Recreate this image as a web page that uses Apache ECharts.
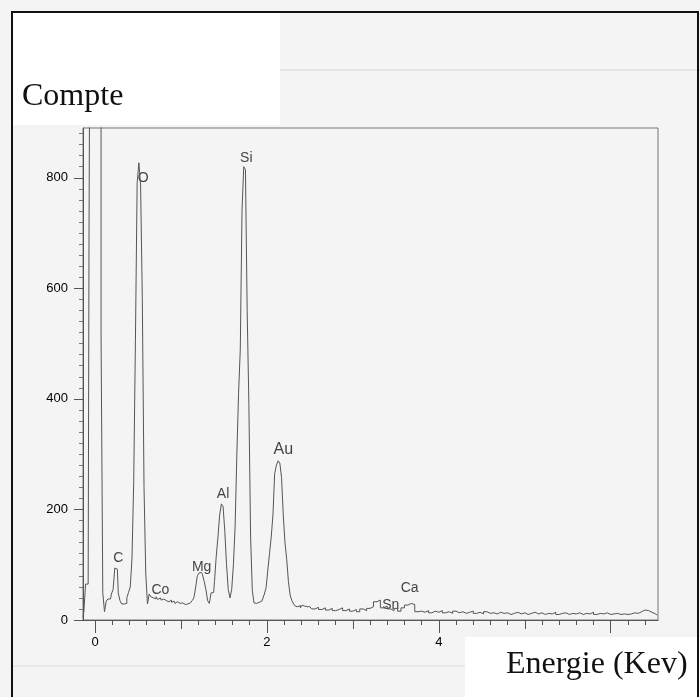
<!DOCTYPE html>
<html>
<head>
<meta charset="utf-8">
<title>Spectre EDS</title>
<script src="https://cdn.jsdelivr.net/npm/echarts@6/dist/echarts.min.js"></script>
</head>
<body style="margin:0;background:#f4f4f4;">
<div id="main" style="width:700px;height:697px;"></div>
<script type="text/javascript">
// canaux fins (0.02 keV) autour des pics
var peakEnergy = [
    -0.14,-0.12,-0.10,-0.08,-0.06,-0.04,-0.02,0.00,0.02,0.04,
    0.06,0.08,0.10,0.12,0.14,0.16,0.18,0.20,0.22,0.24,
    0.26,0.28,0.30,0.32,0.34,0.36,0.38,0.40,0.42,0.44,
    0.46,0.48,0.50,0.52,0.54,0.56,0.58,0.60,0.62,0.64,
    0.66,0.68,0.70,0.72,0.74,0.76,0.78,0.80,0.82,0.84,
    0.86,0.88,0.90,0.92,0.94,0.96,0.98,1.00,1.02,1.04,
    1.06,1.08,1.10,1.12,1.14,1.16,1.18,1.20,1.22,1.24,
    1.26,1.28,1.30,1.32,1.34,1.36,1.38,1.40,1.42,1.44,
    1.46,1.48,1.50,1.52,1.54,1.56,1.58,1.60,1.62,1.64,
    1.66,1.68,1.70,1.72,1.74,1.76,1.78,1.80,1.82,1.84,
    1.86,1.88,1.90,1.92,1.94,1.96,1.98,2.00,2.02,2.04,
    2.06,2.08,2.10,2.12,2.14,2.16,2.18,2.20,2.22,2.24,
    2.26,2.28,2.30,2.32,2.34,2.36,2.38,2.40,2.42,2.44,
    2.46,2.48
];
var peakCounts = [
    5,15,65,65,700,1500,1500,1500,1500,1500,
    1500,519,50,15,34,38,38,47,55,94,
    92,49,35,29,29,30,40,50,60,112,
    250,506,791,827,787,582,240,85,29,47,
    42,40,38,42,37,40,36,38,35,37,
    33,36,32,34,30,33,30,29,31,28,
    30,29,31,30,35,40,58,80,85,86,
    82,70,55,35,30,49,50,70,115,150,
    190,210,205,160,100,55,40,55,100,170,
    300,410,490,740,820,815,560,390,150,53,
    31,30,32,30,34,38,47,58,90,120,
    150,190,265,280,288,284,258,190,140,110,
    70,45,35,29,25,24,26,22,27,25,
    24,22
];
// queue du spectre (0.04 keV)
var tailEnergy = [
    2.50,2.54,2.58,2.62,2.66,2.70,2.74,2.78,2.82,2.86,
    2.90,2.94,2.98,3.02,3.06,3.10,3.14,3.18,3.22,3.26,
    3.30,3.34,3.38,3.42,3.46,3.50,3.54,3.58,3.62,3.66,
    3.70,3.74,3.78,3.82,3.86,3.90,3.94,3.98,4.02,4.06,
    4.10,4.14,4.18,4.22,4.26,4.30,4.34,4.38,4.42,4.46,
    4.50,4.54,4.58,4.62,4.66,4.70,4.74,4.78,4.82,4.86,
    4.90,4.94,4.98,5.02,5.06,5.10,5.14,5.18,5.22,5.26,
    5.30,5.34,5.38,5.42,5.46,5.50,5.54,5.58,5.62,5.66,
    5.70,5.74,5.78,5.82,5.86,5.90,5.94,5.98,6.02,6.06,
    6.10,6.14,6.18,6.22,6.26,6.30,6.34,6.38,6.42,6.46,
    6.50,6.54
];
var tailCounts = [
    24,20,23,19,22,18,21,17,19,22,
    17,20,16,19,15,20,17,21,24,33,
    36,22,25,20,17,21,16,22,27,30,
    28,15,16,14,17,13,16,14,17,13,
    15,12,16,13,15,12,14,16,12,14,
    11,15,12,13,11,14,12,13,10,12,
    14,11,13,10,12,14,11,13,10,12,
    11,14,10,12,13,10,12,11,13,10,
    12,11,14,10,12,11,13,10,11,12,
    10,11,10,11,13,12,15,18,17,14,
    11,9
];

var elementNames = ['C', 'O', 'Co', 'Mg', 'Al', 'Si', 'Au', 'Sn', 'Ca'];
var elementEnergy = [0.27, 0.56, 0.76, 1.24, 1.49, 1.76, 2.19, 3.44, 3.66];
var elementLabelY = [111, 800, 54, 96, 227, 836, 308, 26, 58];

var yTicks = [0, 200, 400, 600, 800];
var yMinorTicks = [20, 40, 60, 80, 100, 120, 140, 160, 180, 220, 240, 260, 280, 300, 320, 340, 360, 380,
    420, 440, 460, 480, 500, 520, 540, 560, 580, 620, 640, 660, 680, 700, 720, 740, 760, 780,
    820, 840, 860, 880];
var xLabels = [0, 2, 4];
var xMajorTicks = [0, 2, 4, 6];
var xMidTicks = [1, 3, 5];
var xMinorTicks = [0.2, 0.4, 0.6, 0.8, 1.2, 1.4, 1.6, 1.8, 2.2, 2.4, 2.6, 2.8, 3.2, 3.4, 3.6, 3.8,
    4.2, 4.4, 4.6, 4.8, 5.2, 5.4, 5.6, 5.8, 6.2, 6.4];

var spectrum = [];
peakEnergy.forEach(function (e, i) { spectrum.push([e, peakCounts[i]]); });
tailEnergy.forEach(function (e, i) { spectrum.push([e, tailCounts[i]]); });

var xMin = -0.14, xMax = 6.55, yMax = 890;
var axisGray = '#555';

function tickAxis(values, len, labels) {
    return {
        type: 'value', position: 'bottom', min: xMin, max: xMax,
        axisLine: {show: !!labels, onZero: false, lineStyle: {color: axisGray}},
        axisTick: {show: true, length: len, customValues: values, lineStyle: {color: axisGray}},
        axisLabel: labels ? {
            show: true, customValues: labels, color: '#000', fontSize: 13,
            fontFamily: 'Liberation Sans', margin: 16
        } : {show: false},
        splitLine: {show: false}
    };
}

var myChart = echarts.init(document.getElementById('main'));
var option = {
    backgroundColor: '#f4f4f4',
    animation: false,
    grid: {left: 83, right: 42, top: 128, bottom: 77, show: true, borderColor: '#777', borderWidth: 1},
    xAxis: [
        tickAxis(xMinorTicks, 5, xLabels),
        tickAxis(xMidTicks, 9, null),
        tickAxis(xMajorTicks, 13, null)
    ],
    yAxis: [
        {
            type: 'value', position: 'left', min: 0, max: yMax,
            axisLine: {show: true, onZero: false, lineStyle: {color: axisGray}},
            axisTick: {show: true, length: 9, customValues: yTicks, lineStyle: {color: axisGray}},
            axisLabel: {customValues: yTicks, color: '#000', fontSize: 13, fontFamily: 'Liberation Sans', margin: 15},
            splitLine: {show: false}
        },
        {
            type: 'value', position: 'left', min: 0, max: yMax,
            axisLine: {show: false, onZero: false},
            axisTick: {show: true, length: 4, customValues: yMinorTicks, lineStyle: {color: '#777'}},
            axisLabel: {show: false},
            splitLine: {show: false}
        }
    ],
    graphic: [
        {type: 'rect', z: -1, shape: {x: 12, y: 12, width: 268, height: 113}, style: {fill: '#ffffff'}},
        {type: 'rect', z: -1, shape: {x: 465, y: 637, width: 240, height: 70}, style: {fill: '#ffffff'}},
        {type: 'line', z: -1, shape: {x1: 280, y1: 70, x2: 700, y2: 70}, style: {stroke: '#d6d6d6', lineWidth: 1}},
        {type: 'line', z: -1, shape: {x1: 12, y1: 666, x2: 465, y2: 666}, style: {stroke: '#dddddd', lineWidth: 1}},
        {type: 'text', z: 10, style: {text: 'Compte', x: 22, y: 97, textVerticalAlign: 'middle',
            font: '32px "Liberation Serif"', fill: '#111'}},
        {type: 'text', z: 10, style: {text: 'Energie (Kev)', x: 506, y: 665, textVerticalAlign: 'middle',
            font: '32px "Liberation Serif"', fill: '#111'}},
        {type: 'rect', z: 100, shape: {x: 12, y: 12, width: 686, height: 700},
            style: {fill: 'none', stroke: '#111', lineWidth: 2}}
    ],
    series: [
        {
            type: 'line',
            data: spectrum,
            step: 'middle',
            symbol: 'none',
            clip: true,
            lineStyle: {color: '#555', width: 1}
        },
        {
            type: 'scatter',
            symbolSize: 1,
            itemStyle: {color: 'rgba(0,0,0,0)'},
            data: elementNames.map(function (n, i) {
                return {
                    value: [elementEnergy[i], elementLabelY[i], n],
                    label: {fontSize: n === 'Au' ? 16 : 14}
                };
            }),
            label: {
                show: true, position: 'inside', color: '#111',
                fontFamily: 'Liberation Sans',
                formatter: function (p) { return p.value[2]; }
            }
        }
    ]
};
myChart.setOption(option);
</script>
</body>
</html>
